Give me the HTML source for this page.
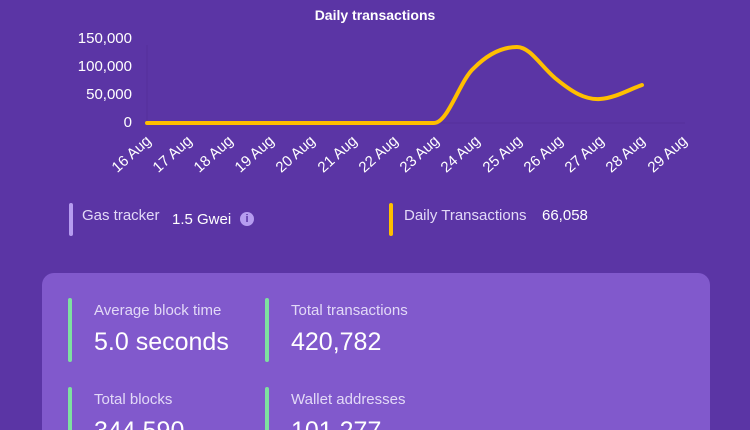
<!DOCTYPE html>
<html style="margin:0;width:750px;height:430px;overflow:hidden"><head><meta charset="utf-8"><style>
body{margin:0;width:750px;height:430px;overflow:hidden;background:#5b35a5;font-family:"Liberation Sans",sans-serif;position:relative}
.wrap{position:absolute;left:0;top:0;width:750px;height:430px;overflow:hidden}
.t{position:absolute;white-space:nowrap}
.card{position:absolute;left:42px;top:273px;width:668px;height:157px;background:#8159cc;border-radius:12px 12px 0 0}
.bar{position:absolute;width:4px;border-radius:2px}
.lbl{color:#e2d9f7;font-size:15px}
.val{color:#fff;font-size:25px}
</style></head><body><div class="wrap">
<svg width="750" height="270" style="position:absolute;left:0;top:0">
<text x="375" y="20" fill="#fff" font-size="14" font-weight="bold" text-anchor="middle" font-family="Liberation Sans">Daily transactions</text>
<line x1="147" y1="45" x2="147" y2="123" stroke="#54309a" stroke-width="1"/>
<line x1="147" y1="123" x2="685" y2="123" stroke="#54309a" stroke-width="1"/>
<g fill="#fff" font-size="15" text-anchor="end" font-family="Liberation Sans">
<text x="132" y="43">150,000</text><text x="132" y="71">100,000</text><text x="132" y="99">50,000</text><text x="132" y="127">0</text>
</g>
<g fill="#fff" font-size="15" text-anchor="end" font-family="Liberation Sans">
<text transform="translate(152,142) rotate(-42)">16 Aug</text>
<text transform="translate(193,142) rotate(-42)">17 Aug</text>
<text transform="translate(234,142) rotate(-42)">18 Aug</text>
<text transform="translate(275,142) rotate(-42)">19 Aug</text>
<text transform="translate(316,142) rotate(-42)">20 Aug</text>
<text transform="translate(358,142) rotate(-42)">21 Aug</text>
<text transform="translate(399,142) rotate(-42)">22 Aug</text>
<text transform="translate(440,142) rotate(-42)">23 Aug</text>
<text transform="translate(481,142) rotate(-42)">24 Aug</text>
<text transform="translate(523,142) rotate(-42)">25 Aug</text>
<text transform="translate(564,142) rotate(-42)">26 Aug</text>
<text transform="translate(605,142) rotate(-42)">27 Aug</text>
<text transform="translate(646,142) rotate(-42)">28 Aug</text>
<text transform="translate(688,142) rotate(-42)">29 Aug</text>
</g>
<path d="M147 123 L434 123 C448 123 460 80 474 68 C490 52 505 47 517 47 C530 47 540 65 555 78 C572 92 585 100 600 99 C615 98 628 90 642 85" fill="none" stroke="#ffbf00" stroke-width="4" stroke-linecap="round"/>
</svg>
<div class="bar" style="left:69px;top:203px;height:33px;background:#b69cf0"></div>
<div class="t" style="left:82px;top:207px;color:#e2d9f7;font-size:15px">Gas tracker</div>
<div class="t" style="left:172px;top:211px;color:#fff;font-size:15px">1.5 Gwei</div>
<div class="t" style="left:240px;top:212px;width:14px;height:14px;border-radius:50%;background:#b69cf0;color:#5b35a5;font-size:11px;font-weight:bold;text-align:center;line-height:14px">i</div>
<div class="bar" style="left:389px;top:203px;height:33px;background:#ffbf00"></div>
<div class="t" style="left:404px;top:207px;color:#e2d9f7;font-size:15px">Daily Transactions</div>
<div class="t" style="left:542px;top:207px;color:#fff;font-size:15px">66,058</div>
<div class="card"></div>
<div class="bar" style="left:68px;top:298px;height:64px;background:#7ee0a0"></div>
<div class="t lbl" style="left:94px;top:302px">Average block time</div>
<div class="t val" style="left:94px;top:328px">5.0 seconds</div>
<div class="bar" style="left:265px;top:298px;height:64px;background:#7ee0a0"></div>
<div class="t lbl" style="left:291px;top:302px">Total transactions</div>
<div class="t val" style="left:291px;top:328px">420,782</div>
<div class="bar" style="left:68px;top:387px;height:43px;border-radius:2px 2px 0 0;background:#7ee0a0"></div>
<div class="t lbl" style="left:94px;top:391px">Total blocks</div>
<div class="t val" style="left:94px;top:417px;height:13px;overflow:hidden">344,590</div>
<div class="bar" style="left:265px;top:387px;height:43px;border-radius:2px 2px 0 0;background:#7ee0a0"></div>
<div class="t lbl" style="left:291px;top:391px">Wallet addresses</div>
<div class="t val" style="left:291px;top:417px;height:13px;overflow:hidden">101,277</div>
</div></body></html>
